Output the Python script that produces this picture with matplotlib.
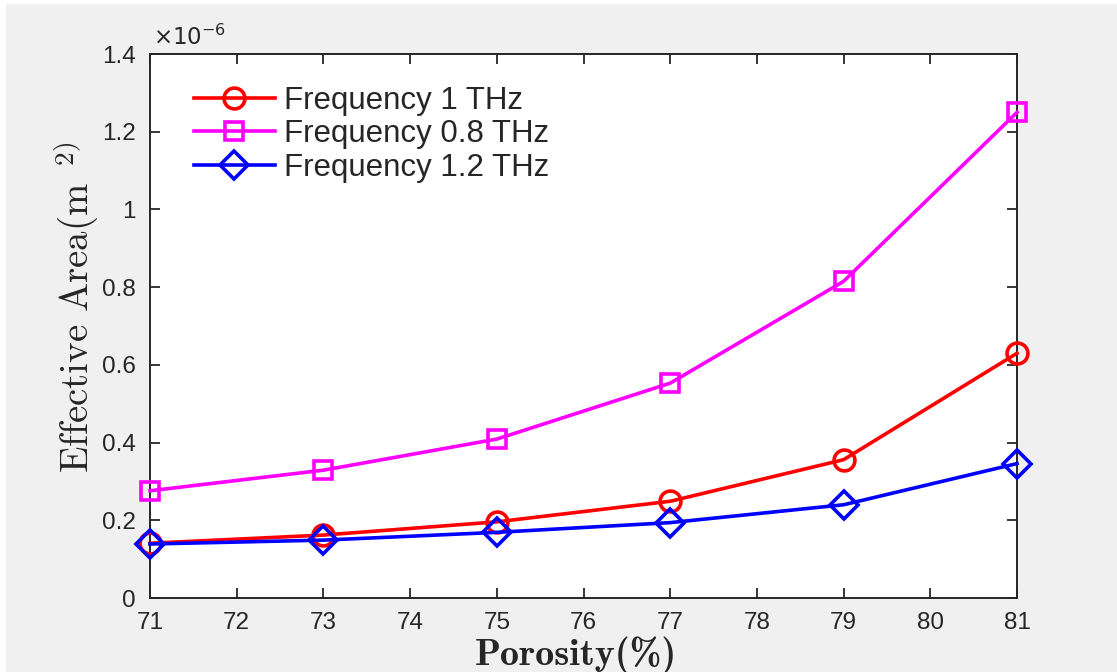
import matplotlib.pyplot as plt
from matplotlib.patches import Rectangle
from matplotlib.ticker import FuncFormatter

plt.rcParams['mathtext.fontset'] = 'cm'
plt.rcParams['font.family'] = ['Liberation Sans', 'DejaVu Sans']

porosity = [71, 73, 75, 77, 79, 81]
# effective area, units of 1e-6 m^2
area_1thz = [0.141, 0.162, 0.196, 0.249, 0.356, 0.630]
area_08thz = [0.276, 0.329, 0.409, 0.553, 0.815, 1.250]
area_12thz = [0.139, 0.149, 0.169, 0.194, 0.240, 0.346]
labels = ['Frequency 1 THz', 'Frequency 0.8 THz', 'Frequency 1.2 THz']

fig = plt.figure(figsize=(11.17, 6.72), dpi=100, facecolor='#f0f0f0')
# thin white strips at the left and top edge of the exported image
fig.patches.append(Rectangle((0, 0), 6 / 1117, 1, transform=fig.transFigure,
                             facecolor='white', edgecolor='none'))
fig.patches.append(Rectangle((0, 1 - 4 / 672), 1, 4 / 672, transform=fig.transFigure,
                             facecolor='white', edgecolor='none'))

ax = fig.add_axes([0.1343, 0.1101, 0.7762, 0.8095])

kw = dict(lw=2.6, mew=2.6, mfc='none', clip_on=False, zorder=3)
ax.plot(porosity, area_1thz, '-o', color='#ff0000', label=labels[0], ms=15, **kw)
ax.plot(porosity, area_08thz, '-s', color='#ff00ff', label=labels[1], ms=13, **kw)
ax.plot(porosity, area_12thz, '-D', color='#0000ff', label=labels[2], ms=14, **kw)

ax.set_xlim(71, 81)
ax.set_ylim(0, 1.4)
ax.set_xticks(range(71, 82))
ax.set_yticks([0, 0.2, 0.4, 0.6, 0.8, 1.0, 1.2, 1.4])
ax.yaxis.set_major_formatter(FuncFormatter(lambda v, p: '%g' % round(v, 2)))
ax.tick_params(direction='in', length=7, width=1.3, top=True, right=True,
               labelsize=17.5, colors='#262626', pad=10)
for s in ax.spines.values():
    s.set_linewidth(1.4)
    s.set_color('#262626')

ax.text(0.003, 1.008, r'$\times 10^{-6}$', transform=ax.transAxes, fontsize=16.5,
        color='#262626', ha='left', va='bottom', math_fontfamily='dejavusans')

ax.set_xlabel('Porosity(%)', family='cmb10', fontsize=27.5, color='#262626', va='top')
ax.xaxis.set_label_coords(0.491, -0.071)
ax.set_ylabel(r'Effective Area(m$^{\ \ 2)}$', family='cmr10', fontsize=28,
              color='#262626')
ax.yaxis.set_label_coords(-0.057, 0.535)

leg = ax.legend(loc='upper left', frameon=False, fontsize=22.5, handlelength=2.6,
                labelspacing=0.12, handletextpad=0.3, borderaxespad=0,
                bbox_to_anchor=(0.036, 0.965))
for t in leg.get_texts():
    t.set_color('#262626')

fig.savefig('out.png', dpi=100, facecolor=fig.get_facecolor())
